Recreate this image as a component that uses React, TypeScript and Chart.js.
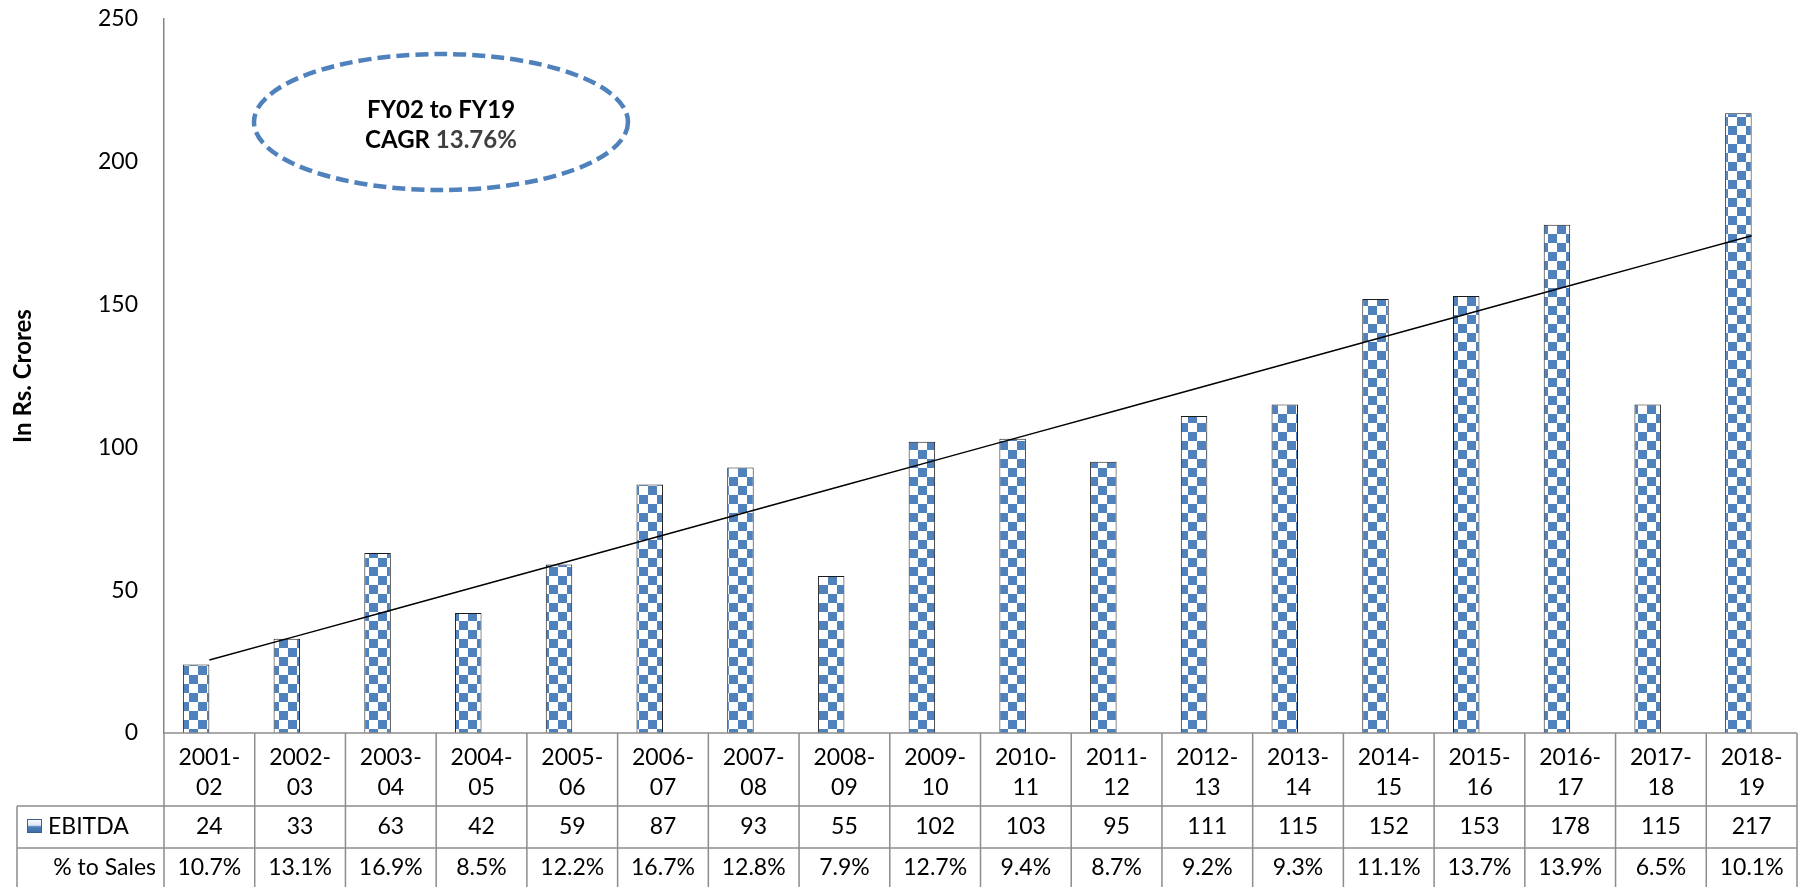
import React, { useEffect, useRef } from 'react';
import { Chart, registerables } from 'chart.js';

Chart.register(...registerables);

const categories = ['2001-02', '2002-03', '2003-04', '2004-05', '2005-06', '2006-07', '2007-08', '2008-09', '2009-10', '2010-11', '2011-12', '2012-13', '2013-14', '2014-15', '2015-16', '2016-17', '2017-18', '2018-19'];
const ebitda = [24, 33, 63, 42, 59, 87, 93, 55, 102, 103, 95, 111, 115, 152, 153, 178, 115, 217];
const pctToSales = ['10.7%', '13.1%', '16.9%', '8.5%', '12.2%', '16.7%', '12.8%', '7.9%', '12.7%', '9.4%', '8.7%', '9.2%', '9.3%', '11.1%', '13.7%', '13.9%', '6.5%', '10.1%'];
const yMin = 0;
const yMax = 250;
const yStep = 50;
const seriesName = 'EBITDA';
const pctRowLabel = '% to Sales';
const yTitle = 'In Rs. Crores';
const noteLine1 = 'FY02 to FY19';
const noteCagrLabel = 'CAGR ';
const noteCagrValue = '13.76%';

// linear trendline (least squares) of the EBITDA series
function trendline(vals: number[]): number[] {
  const n = vals.length;
  const mx = (n - 1) / 2;
  const my = vals.reduce((a, b) => a + b, 0) / n;
  let sxy = 0;
  let sxx = 0;
  vals.forEach((v, i) => {
    sxy += (i - mx) * (v - my);
    sxx += (i - mx) * (i - mx);
  });
  const slope = sxy / sxx;
  return vals.map((_, i) => my + slope * (i - mx));
}

const BLUE = '#4F81BD';
const GRID = '#8c8c8c';
const FONT = 'Lato, "Open Sans", sans-serif';

function makePattern(): CanvasPattern | string {
  const c = document.createElement('canvas');
  c.width = 18;
  c.height = 18;
  const g = c.getContext('2d');
  if (!g) return BLUE;
  g.fillStyle = '#ffffff';
  g.fillRect(0, 0, 18, 18);
  g.fillStyle = BLUE;
  g.fillRect(0, 0, 9, 9);
  g.fillRect(9, 9, 9, 9);
  return g.createPattern(c, 'repeat') || BLUE;
}

const tablePlugin = {
  id: 'dataTable',
  afterDraw(chart: any) {
    const { ctx, chartArea } = chart;
    const xs = chart.scales.x;
    const n = categories.length;
    const left = chartArea.left;
    const right = chartArea.right;
    const bottom = chartArea.bottom;
    const colW = (right - left) / n;
    const row1 = bottom + 73;
    const row2 = row1 + 42;
    const tableBottom = chart.height + 2;
    const legendLeft = 17;

    ctx.save();
    ctx.strokeStyle = GRID;
    ctx.lineWidth = 1.5;
    const line = (x1: number, y1: number, x2: number, y2: number) => {
      ctx.beginPath();
      ctx.moveTo(x1, y1);
      ctx.lineTo(x2, y2);
      ctx.stroke();
    };
    line(left, bottom, right, bottom);
    line(legendLeft, row1, right, row1);
    line(legendLeft, row2, right, row2);
    for (let i = 0; i <= n; i++) {
      const x = left + i * colW;
      line(x, bottom, x, tableBottom);
    }
    line(legendLeft, row1, legendLeft, tableBottom);

    ctx.fillStyle = '#000';
    ctx.font = `23px ${FONT}`;
    ctx.textAlign = 'center';
    ctx.textBaseline = 'middle';
    categories.forEach((c, i) => {
      const cx = xs.getPixelForValue(i);
      const k = c.indexOf('-');
      ctx.fillText(c.slice(0, k + 1), cx, bottom + 25);
      ctx.fillText(c.slice(k + 1), cx, bottom + 55);
      ctx.fillText(String(ebitda[i]), cx, row1 + 21);
      ctx.fillText(pctToSales[i], cx, row2 + 20);
    });

    // legend key
    const kx = 27, ky = 819, kw = 15, kh = 14;
    const grad = ctx.createLinearGradient(0, ky, 0, ky + kh);
    grad.addColorStop(0, '#ffffff');
    grad.addColorStop(0.45, '#dbe6f3');
    grad.addColorStop(0.55, BLUE);
    grad.addColorStop(1, '#3a6aa5');
    ctx.fillStyle = grad;
    ctx.fillRect(kx, ky, kw, kh);
    ctx.strokeStyle = '#3b5f8f';
    ctx.lineWidth = 1;
    ctx.strokeRect(kx + 0.5, ky + 0.5, kw - 1, kh - 1);

    ctx.fillStyle = '#000';
    ctx.textAlign = 'left';
    ctx.fillText(seriesName, 48, row1 + 21);
    ctx.textAlign = 'right';
    ctx.fillText(pctRowLabel, 156, row2 + 20);

    // CAGR note ellipse
    const ex = left + 277;
    const ey = 122;
    ctx.setLineDash([13, 6]);
    ctx.lineWidth = 4.5;
    ctx.strokeStyle = BLUE;
    ctx.beginPath();
    ctx.ellipse(ex, ey, 187, 68, 0, 0, Math.PI * 2);
    ctx.stroke();
    ctx.setLineDash([]);

    ctx.font = `bold 24px ${FONT}`;
    ctx.textAlign = 'center';
    ctx.fillStyle = '#000';
    ctx.fillText(noteLine1, ex, 110);
    const w1 = ctx.measureText(noteCagrLabel).width;
    const w2 = ctx.measureText(noteCagrValue).width;
    const sx = ex - (w1 + w2) / 2;
    ctx.textAlign = 'left';
    ctx.fillText(noteCagrLabel, sx, 140);
    ctx.fillStyle = '#404040';
    ctx.fillText(noteCagrValue, sx + w1, 140);
    ctx.restore();
  },
};

export default function App() {
  const ref = useRef<HTMLCanvasElement | null>(null);

  useEffect(() => {
    document.body.style.margin = '0';
    document.body.style.overflow = 'hidden';
    const canvas = ref.current;
    if (!canvas) return;
    const pattern = makePattern();
    const trend = trendline(ebitda);
    const chart = new Chart(canvas, {
      type: 'bar',
      data: {
        labels: categories,
        datasets: [
          {
            type: 'line',
            label: 'Linear (EBITDA)',
            data: trend,
            borderColor: '#000',
            borderWidth: 1.5,
            pointRadius: 0,
            fill: false,
            order: 0,
          } as any,
          {
            type: 'bar',
            label: seriesName,
            data: ebitda,
            backgroundColor: pattern as any,
            borderColor: '#1a1a1a',
            borderWidth: 1,
            categoryPercentage: 0.584,
            barPercentage: 1,
            order: 1,
          },
          {
            type: 'bar',
            label: 'spacer',
            data: ebitda.map(() => null),
            backgroundColor: 'rgba(0,0,0,0)',
            borderWidth: 0,
            categoryPercentage: 0.584,
            barPercentage: 1,
            order: 2,
          } as any,
        ],
      },
      options: {
        responsive: false,
        animation: false,
        layout: { padding: { left: 0, right: 8, top: 19, bottom: 154 } },
        plugins: {
          legend: { display: false },
          tooltip: { enabled: false },
          title: { display: false },
        },
        scales: {
          x: {
            display: false,
            offset: true,
          },
          y: {
            min: yMin,
            max: yMax,
            afterFit: (s: any) => {
              s.width = 164;
              s.paddingTop = 0;
              s.paddingBottom = 0;
            },
            ticks: {
              stepSize: yStep,
              padding: 26,
              color: '#000',
              font: { family: FONT, size: 23 },
            },
            grid: { display: false, drawTicks: false },
            border: { display: true, color: '#868686', width: 1.5 },
            title: {
              display: true,
              text: yTitle,
              color: '#000',
              font: { family: FONT, size: 24, weight: 'bold' },
              padding: { top: 9, bottom: 0 },
            },
          },
        },
      },
      plugins: [tablePlugin],
    });
    return () => chart.destroy();
  }, []);

  return (
    <div style={{ width: 1805, height: 887, position: 'relative' }}>
      <canvas ref={ref} width={1805} height={887} style={{ display: 'block' }} />
    </div>
  );
}
